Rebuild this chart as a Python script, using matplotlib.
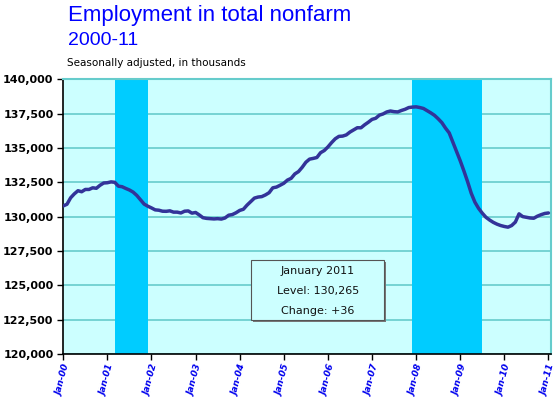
import numpy as np
import matplotlib
matplotlib.use('Agg')
import matplotlib.pyplot as plt
from matplotlib.patches import FancyBboxPatch

# monthly levels, thousands, Jan 2000 .. Jan 2011
emp_2000 = [130781, 130898, 131370, 131657, 131887, 131812, 131979, 131979, 132098, 132064, 132284, 132449]
emp_2001 = [132469, 132530, 132500, 132219, 132178, 132053, 131939, 131786, 131544, 131222, 130912, 130757]
emp_2002 = [130632, 130491, 130466, 130393, 130385, 130421, 130325, 130325, 130265, 130393, 130414, 130251]
emp_2003 = [130300, 130120, 129920, 129870, 129850, 129830, 129850, 129820, 129900, 130100, 130150, 130280]
emp_2004 = [130450, 130535, 130837, 131091, 131348, 131425, 131457, 131579, 131742, 132097, 132152, 132286]
emp_2005 = [132430, 132663, 132788, 133110, 133281, 133593, 133960, 134188, 134242, 134308, 134657, 134814]
emp_2006 = [135077, 135392, 135672, 135847, 135867, 135954, 136162, 136320, 136477, 136473, 136692, 136879]
emp_2007 = [137085, 137167, 137394, 137481, 137626, 137696, 137648, 137628, 137734, 137821, 137947, 137982]
emp_2008 = [138000, 137950, 137880, 137720, 137560, 137380, 137130, 136850, 136450, 136100, 135420, 134740]
emp_2009 = [134070, 133330, 132550, 131700, 131050, 130600, 130250, 129950, 129750, 129580, 129450, 129350]
emp_2010 = [129280, 129230, 129350, 129600, 130200, 130000, 129950, 129900, 129880, 130030, 130140, 130229]
emp_2011 = [130265]

employment = (emp_2000 + emp_2001 + emp_2002 + emp_2003 + emp_2004 + emp_2005 +
              emp_2006 + emp_2007 + emp_2008 + emp_2009 + emp_2010 + emp_2011)

years = ['00', '01', '02', '03', '04', '05', '06', '07', '08', '09', '10', '11']
tick_labels = ['Jan-' + y for y in years]

# recessions as month index from Jan 2000 (start month, last month)
rec_start = [14, 95]
rec_end = [22, 113]

box_lines = ['January 2011', 'Level: 130,265', 'Change: +36']

months = np.arange(len(employment))

fig = plt.figure(figsize=(5.59, 3.97), dpi=100)
ax = fig.add_axes([0.1132, 0.1088, 0.8725, 0.6912])
ax.set_facecolor('#CCFFFF')

for s, e in zip(rec_start, rec_end):
    ax.axvspan(s, e + 1, color='#00CCFF', lw=0, zorder=1)

ax.set_ylim(120000, 140000)
ax.set_xlim(0, 132.7)
ax.set_yticks(np.arange(120000, 140001, 2500))
ax.yaxis.grid(True, color='#66CCCC', lw=1.2, zorder=0)
ax.set_axisbelow(True)

ax.plot(months, employment, color='#333399', lw=2.5, zorder=3, solid_capstyle='round')

ax.set_yticklabels(['{:,}'.format(v) for v in range(120000, 140001, 2500)],
                   fontsize=8, fontweight='bold', family='DejaVu Sans')
ax.set_xticks(np.arange(0, 133, 12))
ax.set_xticklabels(tick_labels, rotation=75, fontsize=6.5, fontweight='bold',
                   color='#0000EE', style='italic', ha='center', va='top')
ax.tick_params(axis='y', direction='out', length=4, width=1, pad=3)
ax.tick_params(axis='x', direction='out', length=4, width=1, pad=3)

for side in ['top', 'right']:
    ax.spines[side].set_color('#66CCCC')
    ax.spines[side].set_linewidth(1.5)
ax.spines['left'].set_color('black')
ax.spines['bottom'].set_color('black')
ax.spines['left'].set_linewidth(1.2)
ax.spines['bottom'].set_linewidth(1.2)

# annotation box
shadow = FancyBboxPatch((253 / 559, 1 - 322 / 397), 133 / 559, 60 / 397,
                        boxstyle='square,pad=0', transform=fig.transFigure,
                        facecolor='#777777', edgecolor='none', zorder=4)
box = FancyBboxPatch((251 / 559, 1 - 320 / 397), 133 / 559, 60 / 397,
                     boxstyle='square,pad=0', transform=fig.transFigure,
                     facecolor='#CCFFFF', edgecolor='#555555', lw=0.8, zorder=5)
fig.patches.append(shadow)
fig.patches.append(box)
for i, line in enumerate(box_lines):
    fig.text(318 / 559, 1 - (271 + i * 20) / 397, line, ha='center', va='center',
             fontsize=8, color='#111111', zorder=6)

fig.text(68 / 559, 1 - 21 / 397, 'Employment in total nonfarm', fontsize=16,
         color='#0000FF', family='Liberation Sans', va='baseline')
fig.text(68 / 559, 1 - 45 / 397, '2000-11', fontsize=14, color='#0000FF',
         family='Liberation Sans', va='baseline')
fig.text(67 / 559, 1 - 66 / 397, 'Seasonally adjusted, in thousands', fontsize=7.5,
         color='black', va='baseline')

fig.savefig('out.png', dpi=100)
